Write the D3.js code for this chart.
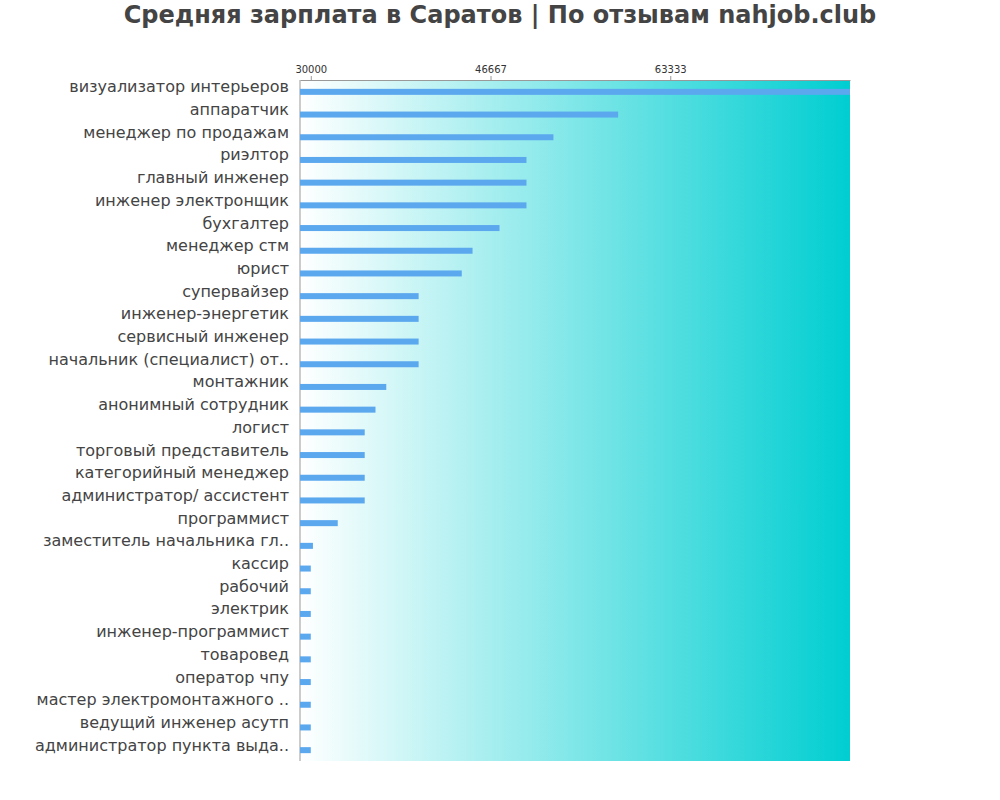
<!DOCTYPE html>
<html><head><meta charset="utf-8">
<script src="https://cdn.jsdelivr.net/npm/d3@7"></script>
<style>body{margin:0;background:#fff}text{font-family:"DejaVu Sans"}</style>
</head><body><svg id="c" width="1000" height="800"></svg>
<script>
const categories=["визуализатор интерьеров","аппаратчик","менеджер по продажам","риэлтор","главный инженер","инженер электронщик","бухгалтер","менеджер стм","юрист","супервайзер","инженер-энергетик","сервисный инженер","начальник (специалист) от..","монтажник","анонимный сотрудник","логист","торговый представитель","категорийный менеджер","администратор/ ассистент","программист","заместитель начальника гл..","кассир","рабочий","электрик","инженер-программист","товаровед","оператор чпу","мастер электромонтажного ..","ведущий инженер асутп","администратор пункта выда.."];
const values=[80000,58500,52500,50000,50000,50000,47500,45000,44000,40000,40000,40000,40000,37000,36000,35000,35000,35000,35000,32500,30200,30000,30000,30000,30000,30000,30000,30000,30000,30000];
const tickValues=[30000,46667,63333];
const svg=d3.select("#c");
const L=300,R=850,T=80,B=761;
const x=d3.scaleLinear().domain([29000,80000]).range([L,R]);
const y=d3.scaleBand().domain(categories).range([T,B]);
const g=svg.append("defs").append("linearGradient").attr("id","gr");
g.append("stop").attr("offset","0%").attr("stop-color","#ffffff");
g.append("stop").attr("offset","100%").attr("stop-color","#00ced1");
svg.append("rect").attr("x",L).attr("y",T).attr("width",R-L).attr("height",B-T).attr("fill","url(#gr)");
svg.append("text").attr("x",500).attr("y",23).attr("text-anchor","middle").attr("font-size",24).attr("font-weight","bold").attr("fill","#444").text("Средняя зарплата в Саратов | По отзывам nahjob.club");
const ax=svg.append("g").attr("transform",`translate(0,${T})`).call(d3.axisTop(x).tickValues(tickValues).tickFormat(d3.format("d")).tickSize(4).tickSizeOuter(0));
ax.select(".domain").attr("stroke","#999");
ax.selectAll("text").attr("font-size",10).attr("fill","#333").attr("font-family","DejaVu Sans");
ax.selectAll("line").attr("stroke","#999");
svg.append("line").attr("x1",L).attr("x2",L).attr("y1",T).attr("y2",B).attr("stroke","#999");
svg.selectAll(".b").data(values).join("rect").attr("x",L).attr("y",(d,i)=>y(categories[i])+y.bandwidth()/2-2.5).attr("width",d=>x(d)-L).attr("height",6).attr("fill","#5ba8ef");
svg.selectAll(".l").data(categories).join("text").attr("x",289).attr("y",d=>y(d)+y.bandwidth()/2+1).attr("text-anchor","end").attr("font-size",16).attr("fill","#444").text(d=>d);
</script></body></html>
